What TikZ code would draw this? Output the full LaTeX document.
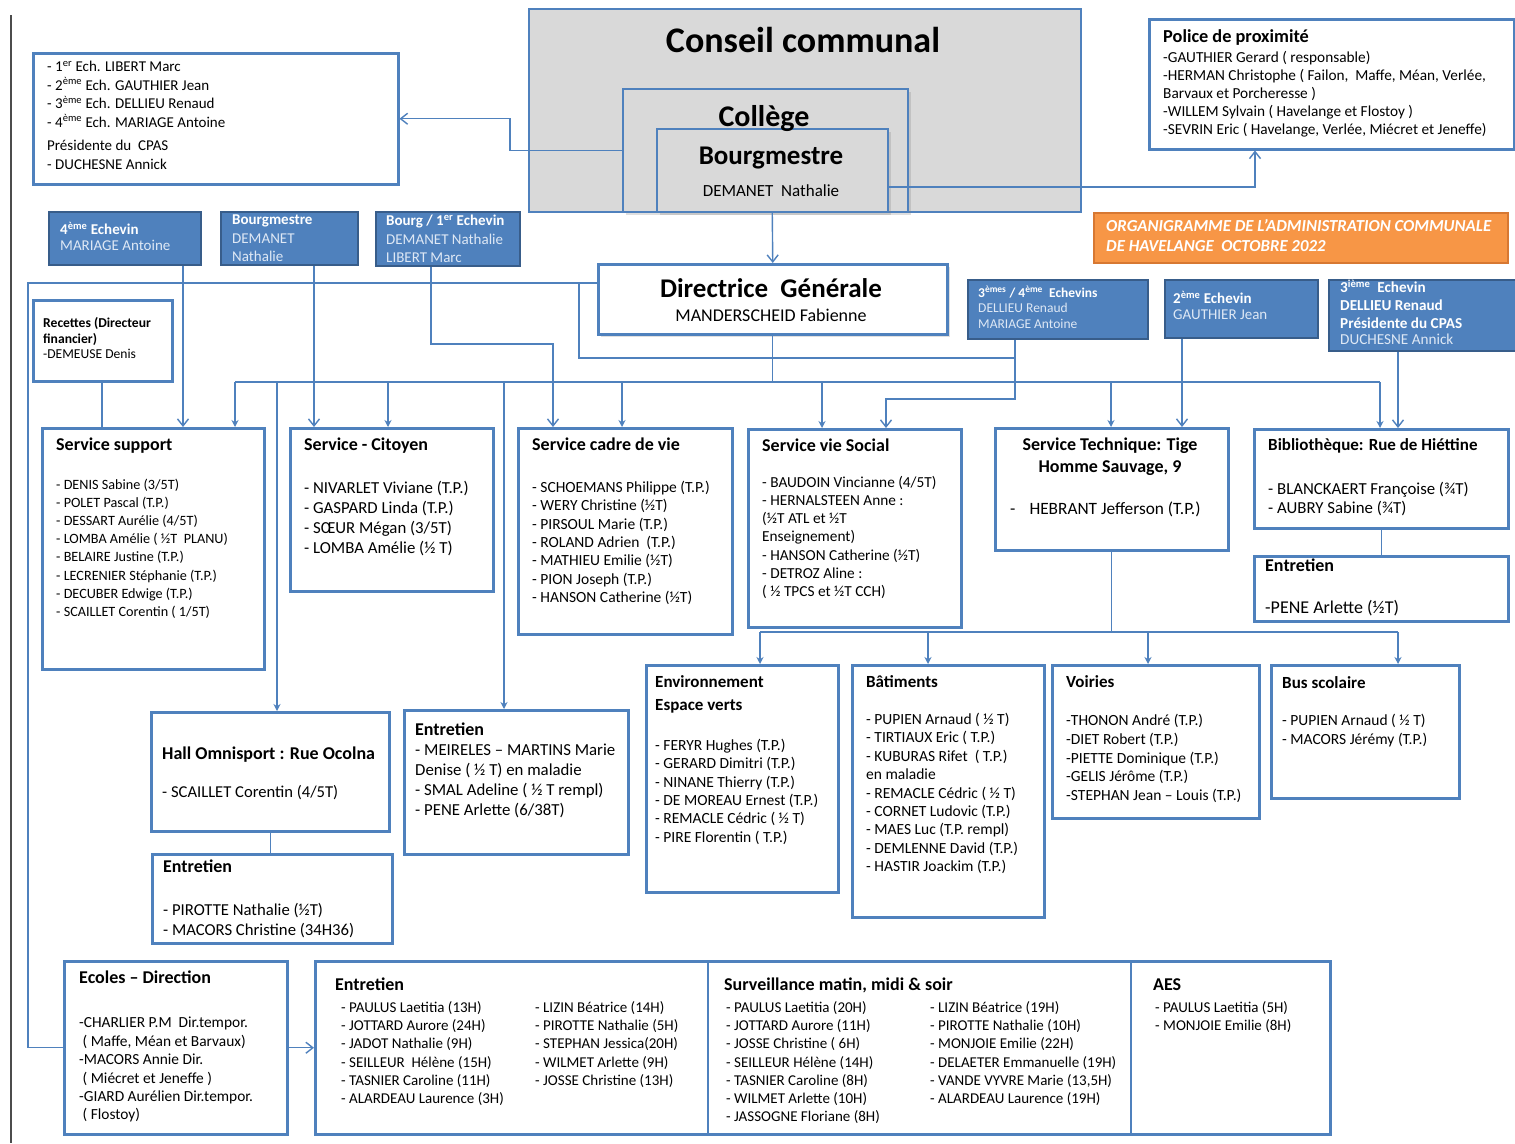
\documentclass[tikz,border=0pt]{standalone}
\usepackage{fontspec}
\setmainfont{Carlito}
\usetikzlibrary{arrows.meta,shadows,calc}
\definecolor{lineblue}{RGB}{79,129,189}
\definecolor{darkblue}{RGB}{56,93,138}
\definecolor{palet}{RGB}{222,232,245}
\definecolor{cgray}{RGB}{217,217,217}
\definecolor{orfill}{RGB}{247,150,70}
\definecolor{ordraw}{RGB}{215,120,50}
\newcommand\fsz[2]{\fontsize{#1}{#2}\selectfont}
\newcommand\mybx[6]{\node[#1,anchor=north west,minimum width={(#5)-(#3)},minimum height={(#6)-(#4)}] (#2) at (#3,#4) {};}
\newcommand\mytx[5]{\node[txt,#1,anchor=north west] (#2) at (#3,#4) {#5};}
\newcommand\sups[1]{\textsuperscript{#1}}
\begin{document}
\begin{tikzpicture}[x=1pt,y=-1pt,
  txt/.style={inner sep=0pt,align=left,text=black},
  sbox/.style={draw=lineblue,line width=2.5pt,fill=white,inner sep=0pt},
  gbox/.style={draw=lineblue,line width=1.5pt,fill=cgray,inner sep=0pt},
  bbox/.style={draw=darkblue,line width=1.8pt,fill=lineblue,inner sep=0pt},
  obox/.style={draw=ordraw,line width=1.8pt,fill=orfill,inner sep=0pt},
  shad/.style={drop shadow={opacity=0.25,shadow xshift=3pt,shadow yshift=-3pt}},
  ln/.style={draw=lineblue,line width=1.4pt},
  arrF/.style={ln,-{Stealth[length=7pt,width=7pt]}},
  arrO/.style={ln,-{Straight Barb[length=7pt,width=11pt]}},
  ttl/.style={font=\fsz{18}{22}\bfseries},
  wb/.style={text=white,font=\fsz{15}{18}\bfseries},
  wn/.style={text=palet,font=\fsz{15}{18}}]
\useasboundingbox (0,0) rectangle (1515,1143);
\fill[white] (0,0) rectangle (1515,1143);
\draw[black!70,line width=1.5pt] (11,15) -- (11,1143);

% ---------- boxes ----------
\mybx{gbox}{cc}{528}{8}{1080}{211}
\mybx{gbox,shad}{col}{622}{88}{907}{211}
\mybx{gbox,shad}{bm}{656}{128}{887}{211}
\mybx{sbox}{cl}{32}{52}{397}{183}
\mybx{sbox}{pol}{1148}{18}{1513}{148}
\mybx{obox}{org}{1093}{212}{1507}{262}
\mybx{bbox}{e4}{48}{211}{200}{264}
\mybx{bbox}{bg}{220}{211}{357}{264}
\mybx{bbox}{b1}{375}{211}{519}{265}
\mybx{sbox,shad}{dg}{597}{263}{946}{333}
\mybx{bbox}{e34}{967}{279}{1147}{338}
\mybx{bbox}{e2}{1164}{279}{1317}{337}
\mybx{bbox}{e3}{1328}{279}{1525}{350}
\mybx{sbox}{rec}{32}{299}{171}{380}
\mybx{sbox}{ss}{41}{427}{263}{668}
\mybx{sbox}{cit}{289}{427}{492}{590}
\mybx{sbox}{cdv}{517}{427}{731}{633}
\mybx{sbox}{vs}{747}{428}{960}{626}
\mybx{sbox}{st}{994}{427}{1227}{549}
\mybx{sbox}{bib}{1253}{428}{1507}{527}
\mybx{sbox}{bibE}{1253}{555}{1507}{620}
\mybx{sbox}{env}{645}{664}{837}{891}
\mybx{sbox}{bat}{851}{664}{1043}{916}
\mybx{sbox}{voi}{1051}{664}{1258}{817}
\mybx{sbox}{bus}{1270}{664}{1458}{797}
\mybx{sbox}{hall}{150}{711}{388}{830}
\mybx{sbox}{hallE}{151}{853}{391}{942}
\mybx{sbox}{midE}{403}{709}{627}{853}
\mybx{sbox}{ec}{63}{960}{286}{1133}
\mybx{sbox}{big}{314}{960}{1329}{1133}
\draw[lineblue,line width=1.5pt] (708,0 |- big.north) -- (708,0 |- big.south);
\draw[lineblue,line width=1.5pt] (1131,0 |- big.north) -- (1131,0 |- big.south);

% ---------- connectors ----------
\draw[arrO] (bm.south) -- (dg.north);
\draw[arrO] (col.west) -- (510,0 |- col.west) |- (cl.east);
\draw[arrO] (bm.east |- 0,187) -| (1255,0 |- pol.south);
\coordinate (jL) at (28,283);
\coordinate (jM) at (579,283);
\draw[ln] (dg.west |- jL) -- (jL) -- (jL |- ec.west) -- (ec.west);
\draw[ln] (jM) |- (1015,358);
\draw[arrO] (1015,0 |- e34.south) -- (1015,399) -| (886,0 |- vs.north);
\draw[arrO] (431,0 |- b1.south) |- (553,344) -- (553,0 |- cdv.north);
\draw[arrO] (314,0 |- bg.south) -- (314,0 |- cit.north);
\draw[arrO] (183,0 |- e4.south) -- (183,0 |- ss.north);
\draw[ln] (102,0 |- rec.south) -- (102,0 |- ss.north);
\coordinate (busL) at (235,382);
\coordinate (busR) at (1380,382);
\draw[ln] (dg.south) -- (dg.south |- busL);
\draw[ln] (busL) -- (busR);
\draw[arrF] (busL) -- (busL |- ss.north);
\draw[arrF] (277,382) -- (277,0 |- hall.north);
\draw[arrF] (388,382) -- (388,0 |- cit.north);
\draw[arrF] (504,382) -- (504,0 |- midE.north);
\draw[arrF] (622,382) -- (622,0 |- cdv.north);
\draw[arrF] (822,382) -- (822,0 |- vs.north);
\draw[arrF] (1111,382) -- (1111,0 |- st.north);
\draw[arrF] (busR) -- (busR |- bib.north);
\draw[arrO] (1182,0 |- e2.south) -- (1182,0 |- st.north);
\draw[arrO] (1398,0 |- e3.south) -- (1398,0 |- bib.north);
\coordinate (tL) at (760,632);
\coordinate (tR) at (1398,632);
\draw[ln] (st.south) -- (st.south |- tL);
\draw[ln] (tL) -- (tR);
\draw[arrF] (tL) -- (tL |- env.north);
\draw[arrF] (928,632) -- (928,0 |- bat.north);
\draw[arrF] (1148,632) -- (1148,0 |- voi.north);
\draw[arrF] (tR) -- (tR |- bus.north);
\draw[ln] (bib.south) -- (bibE.north);
\draw[ln] (hall.south) -- (hall.south |- hallE.north);
\draw[arrO] (ec.east) -- (big.west);

% ---------- texts ----------
\node[txt,anchor=base,font=\fsz{36}{40}\bfseries] (cc-t) at (803,52) {Conseil communal};
\node[txt,anchor=base,font=\fsz{30}{34}\bfseries] (col-t) at (764,126) {Collège};
\node[txt,anchor=base,font=\fsz{27}{30}\bfseries] (bm-t) at (771,164) {Bourgmestre};
\node[txt,anchor=base,font=\fsz{17}{20}] (bm-n) at (771,196) {DEMANET\ \ Nathalie};
\node[txt,anchor=base,font=\fsz{27}{30}\bfseries] (dg-t) at (771,297) {Directrice\ \ Générale};
\node[txt,anchor=base,font=\fsz{18}{20}] (dg-n) at (771,321) {MANDERSCHEID Fabienne};

\mytx{font=\fsz{15}{18.5}}{cl-a}{47}{61}{- 1\sups{er} Ech. LIBERT Marc\\- 2\sups{ème} Ech. GAUTHIER Jean\\- 3\sups{ème} Ech. DELLIEU Renaud\\- 4\sups{ème} Ech. MARIAGE Antoine}
\mytx{font=\fsz{15}{18.5}}{cl-b}{47}{140}{Présidente du\ \ CPAS\\- DUCHESNE Annick}

\mytx{font=\fsz{18.3}{21}\bfseries}{pol-t}{1163}{29}{Police de proximité}
\mytx{font=\fsz{15.3}{18}}{pol-b}{1163}{51}{-GAUTHIER Gerard ( responsable)\\-HERMAN Christophe ( Failon,\ \ Maffe, Méan, Verlée,\\Barvaux et Porcheresse )\\-WILLEM Sylvain ( Havelange et Flostoy )\\-SEVRIN Eric ( Havelange, Verlée, Miécret et Jeneffe)}

\mytx{text=white,font=\fsz{16.8}{20}\bfseries\itshape}{org-t}{1106}{219.5}{ORGANIGRAMME DE L’ADMINISTRATION COMMUNALE\\DE HAVELANGE\ \ OCTOBRE 2022}

\mytx{wb}{e4-a}{60}{222}{4\sups{ème} Echevin}
\mytx{wn}{e4-b}{60}{239.5}{MARIAGE Antoine}
\mytx{wb}{bg-a}{232}{215}{Bourgmestre}
\mytx{wn}{bg-b}{232}{233.5}{DEMANET\\Nathalie}
\mytx{wb}{b1-a}{386}{215}{Bourg / 1\sups{er} Echevin}
\mytx{wn}{b1-b}{386}{233.5}{DEMANET Nathalie\\LIBERT Marc}
\mytx{wb,font=\fsz{13.5}{16.5}\bfseries}{e34-a}{978}{286}{3\sups{èmes} / 4\sups{ème}\ \ Echevins}
\mytx{wn,font=\fsz{13.5}{16.5}}{e34-b}{978}{302.5}{DELLIEU Renaud\\MARIAGE Antoine}
\mytx{wb}{e2-a}{1173}{291}{2\sups{ème} Echevin}
\mytx{wn}{e2-b}{1173}{310}{GAUTHIER Jean}
\mytx{wb,font=\fsz{15.2}{18}\bfseries}{e3-a}{1340}{280}{3\sups{ième}\ \ Echevin\\DELLIEU Renaud\\Présidente du CPAS}
\mytx{wn,font=\fsz{15.2}{18}}{e3-b}{1340}{334}{DUCHESNE Annick}

\mytx{font=\fsz{13.6}{16}\bfseries}{rec-a}{43}{317}{Recettes (Directeur\\financier)}
\mytx{font=\fsz{13.6}{16}}{rec-b}{43}{349}{-DEMEUSE Denis}

\mytx{ttl}{ss-t}{56}{438}{Service support}
\mytx{font=\fsz{14.2}{18.1}}{ss-b}{56}{479}{- DENIS Sabine (3/5T)\\- POLET Pascal (T.P.)\\- DESSART Aurélie (4/5T)\\- LOMBA Amélie ( ½T\ \ PLANU)\\- BELAIRE Justine (T.P.)\\- LECRENIER Stéphanie (T.P.)\\- DECUBER Edwige (T.P.)\\- SCAILLET Corentin ( 1/5T)}

\mytx{ttl}{cit-t}{304}{438}{Service - Citoyen}
\mytx{font=\fsz{16.8}{20}}{cit-b}{304}{481.5}{- NIVARLET Viviane (T.P.)\\- GASPARD Linda (T.P.)\\- SŒUR Mégan (3/5T)\\- LOMBA Amélie (½ T)}

\mytx{ttl}{cdv-t}{532}{438}{Service cadre de vie}
\mytx{font=\fsz{15.5}{18.3}}{cdv-b}{532}{481}{- SCHOEMANS Philippe (T.P.)\\- WERY Christine (½T)\\- PIRSOUL Marie (T.P.)\\- ROLAND Adrien\ \ (T.P.)\\- MATHIEU Emilie (½T)\\- PION Joseph (T.P.)\\- HANSON Catherine (½T)}

\mytx{ttl}{vs-t}{762}{439}{Service vie Social}
\mytx{font=\fsz{15.3}{18.2}}{vs-b}{762}{476}{- BAUDOIN Vincianne (4/5T)\\- HERNALSTEEN Anne :\\(½T ATL et ½T\\Enseignement)\\- HANSON Catherine (½T)\\- DETROZ Aline :\\( ½ TPCS et ½T CCH)}

\node[txt,ttl,align=center,anchor=north] (st-t) at (1110,438) {Service Technique: Tige\\Homme Sauvage, 9};
\mytx{font=\fsz{17.3}{19}}{st-b}{1010}{502}{-\hspace{14pt}HEBRANT Jefferson (T.P.)}

\mytx{font=\fsz{17}{21}\bfseries}{bib-t}{1268}{438.5}{Bibliothèque: Rue de Hiéttine}
\mytx{font=\fsz{16.8}{19}}{bib-b}{1268}{482.5}{- BLANCKAERT Françoise (¾T)\\- AUBRY Sabine (¾T)}
\mytx{ttl}{bibE-t}{1265}{559}{Entretien}
\mytx{font=\fsz{18}{20}}{bibE-b}{1265}{600}{-PENE Arlette (½T)}

\mytx{font=\fsz{17}{22.5}\bfseries}{env-t}{655}{675.5}{Environnement\\Espace verts}
\mytx{font=\fsz{15.5}{18.3}}{env-b}{655}{739}{- FERYR Hughes (T.P.)\\- GERARD Dimitri (T.P.)\\- NINANE Thierry (T.P.)\\- DE MOREAU Ernest (T.P.)\\- REMACLE Cédric ( ½ T)\\- PIRE Florentin ( T.P.)}

\mytx{font=\fsz{17}{22.5}\bfseries}{bat-t}{866}{675.5}{Bâtiments}
\mytx{font=\fsz{15.5}{18.4}}{bat-b}{866}{713}{- PUPIEN Arnaud ( ½ T)\\- TIRTIAUX Eric ( T.P.)\\- KUBURAS Rifet\ \ ( T.P.)\\en maladie\\- REMACLE Cédric ( ½ T)\\- CORNET Ludovic (T.P.)\\- MAES Luc (T.P. rempl)\\- DEMLENNE David (T.P.)\\- HASTIR Joackim (T.P.)}

\mytx{font=\fsz{17}{22.5}\bfseries}{voi-t}{1066}{675.5}{Voiries}
\mytx{font=\fsz{15.5}{18.8}}{voi-b}{1066}{714}{-THONON André (T.P.)\\-DIET Robert (T.P.)\\-PIETTE Dominique (T.P.)\\-GELIS Jérôme (T.P.)\\-STEPHAN Jean – Louis (T.P.)}

\mytx{font=\fsz{17}{22.5}\bfseries}{bus-t}{1282}{676.5}{Bus scolaire}
\mytx{font=\fsz{15.5}{19}}{bus-b}{1282}{714}{- PUPIEN Arnaud ( ½ T)\\- MACORS Jérémy (T.P.)}

\mytx{ttl}{hall-t}{162}{747}{Hall Omnisport : Rue Ocolna}
\mytx{font=\fsz{16.6}{20}}{hall-b}{162}{785.5}{- SCAILLET Corentin (4/5T)}
\mytx{ttl}{hallE-t}{163}{860}{Entretien}
\mytx{font=\fsz{16.7}{20}}{hallE-b}{163}{903.5}{- PIROTTE Nathalie (½T)\\- MACORS Christine (34H36)}

\mytx{ttl}{midE-t}{415}{723}{Entretien}
\mytx{font=\fsz{16.8}{20}}{midE-b}{415}{743.5}{- MEIRELES – MARTINS Marie\\Denise ( ½ T) en maladie\\- SMAL Adeline ( ½ T rempl)\\- PENE Arlette (6/38T)}

\mytx{ttl}{ec-t}{79}{971}{Ecoles – Direction}
\mytx{font=\fsz{15.4}{18.4}}{ec-b}{79}{1017}{-CHARLIER P.M\ \ Dir.tempor.\\\ ( Maffe, Méan et Barvaux)\\-MACORS Annie Dir.\\\ ( Miécret et Jeneffe )\\-GIARD Aurélien Dir.tempor.\\\ ( Flostoy)}

\mytx{ttl}{big-t1}{335}{978}{Entretien}
\mytx{font=\fsz{15}{18.3}}{big-a}{341}{1001}{- PAULUS Laetitia (13H)\\- JOTTARD Aurore (24H)\\- JADOT Nathalie (9H)\\- SEILLEUR\ \ Hélène (15H)\\- TASNIER Caroline (11H)\\- ALARDEAU Laurence (3H)}
\mytx{font=\fsz{15}{18.3}}{big-b}{535}{1001}{- LIZIN Béatrice (14H)\\- PIROTTE Nathalie (5H)\\- STEPHAN Jessica(20H)\\- WILMET Arlette (9H)\\- JOSSE Christine (13H)}
\mytx{ttl}{big-t2}{724}{978}{Surveillance matin, midi \& soir}
\mytx{font=\fsz{15}{18.3}}{big-c}{726}{1001}{- PAULUS Laetitia (20H)\\- JOTTARD Aurore (11H)\\- JOSSE Christine ( 6H)\\- SEILLEUR Hélène (14H)\\- TASNIER Caroline (8H)\\- WILMET Arlette (10H)\\- JASSOGNE Floriane (8H)}
\mytx{font=\fsz{15}{18.3}}{big-d}{930}{1001}{- LIZIN Béatrice (19H)\\- PIROTTE Nathalie (10H)\\- MONJOIE Emilie (22H)\\- DELAETER Emmanuelle (19H)\\- VANDE VYVRE Marie (13,5H)\\- ALARDEAU Laurence (19H)}
\mytx{ttl}{big-t3}{1153}{978}{AES}
\mytx{font=\fsz{15}{18.3}}{big-e}{1155}{1001}{- PAULUS Laetitia (5H)\\- MONJOIE Emilie (8H)}
\end{tikzpicture}
\end{document}
